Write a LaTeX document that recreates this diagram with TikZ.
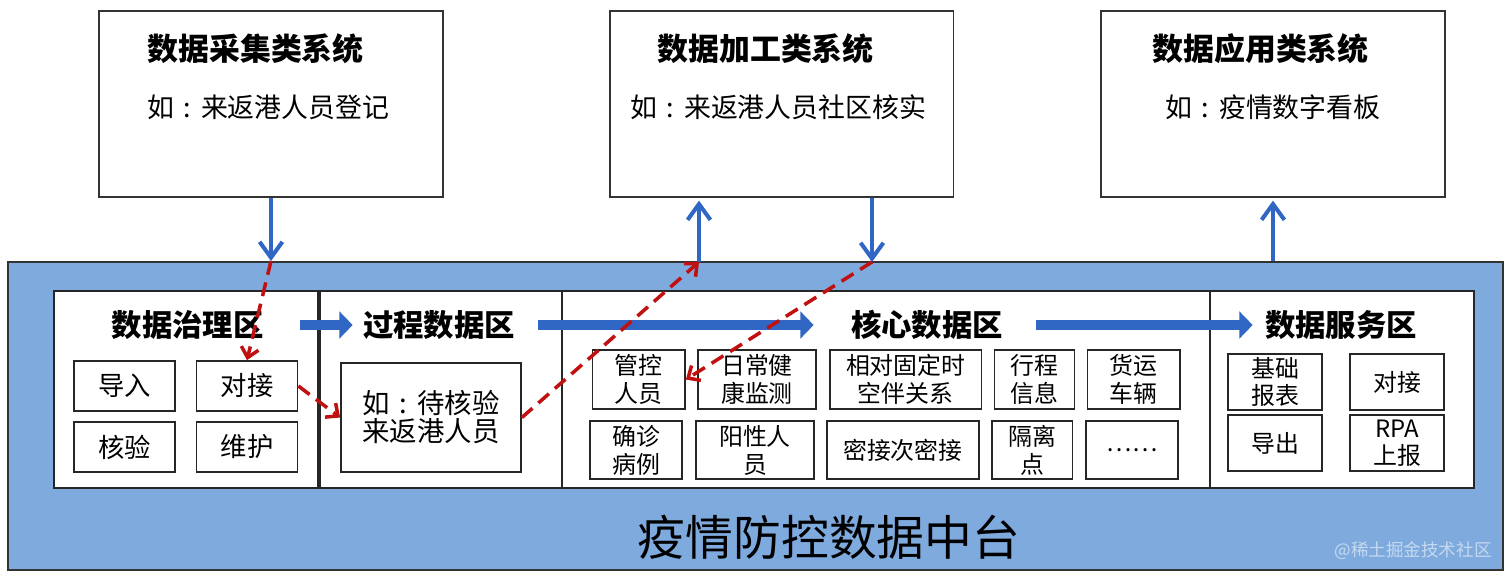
\documentclass[tikz,border=0pt]{standalone}
\usepackage{fontspec}
\setmainfont{Noto Sans CJK SC}
\usetikzlibrary{positioning, arrows.meta}
\definecolor{pfblue}{RGB}{126,170,222}
\definecolor{arrblue}{RGB}{48,102,196}
\definecolor{dashred}{RGB}{192,16,16}
\newcommand{\midcolon}{\makebox[1em]{:}}

\begin{document}
\begin{tikzpicture}[
		x=0.02cm, y=-0.02cm,
		sysbox/.style={draw=black!80, fill=white, line width=1.1pt, minimum width=6.88cm, minimum height=3.72cm, inner sep=0pt},
		zone/.style={draw=black!85, fill=white, line width=1.1pt, minimum height=3.94cm, inner sep=0pt},
		cell/.style={draw=black!85, fill=white, line width=1pt, inner sep=0pt, align=center, font=\fontsize{13.6}{15.9}\selectfont},
		bigcell/.style={cell, minimum width=2.02cm, minimum height=1cm, font=\fontsize{15}{17}\selectfont},
		svcell/.style={cell, minimum width=1.88cm, minimum height=1.12cm, font=\fontsize{13.6}{15.3}\selectfont},
		systitle/.style={anchor=west, inner sep=0pt, font=\fontsize{17.6}{20}\selectfont\bfseries},
		syssub/.style={anchor=west, inner sep=0pt, font=\fontsize{15.3}{18}\selectfont},
		zonetitle/.style={inner sep=0pt, font=\fontsize{17.3}{20}\selectfont\bfseries},
		flow/.style={draw=arrblue, line width=5.6pt, -{Triangle[length=7.5pt,width=15pt]}},
		link/.style={draw=arrblue, line width=2.3pt, -{Straight Barb[length=9pt,width=13pt]}},
		hop/.style={draw=dashred, line width=2pt, dash pattern=on 8pt off 4.5pt, -{Straight Barb[length=5.5pt,width=10pt]}}
		]
		
		\useasboundingbox (0,0) rectangle (1512,579);
		
		% 上层三类系统
		\node[sysbox] (sys1) at (271,104) {};
		\node[sysbox] (sys2) at (781.5,104) {};
		\node[sysbox] (sys3) at (1273,104) {};
		\node[systitle] (sys1t) at (147,49) {数据采集类系统};
		\node[syssub] (sys1s) at (147,107) {如\midcolon 来返港人员登记};
		\node[systitle] (sys2t) at (657,49) {数据加工类系统};
		\node[syssub] (sys2s) at (630,107) {如\midcolon 来返港人员社区核实};
		\node[systitle] (sys3t) at (1152,49) {数据应用类系统};
		\node[syssub] (sys3s) at (1165,107) {如\midcolon 疫情数字看板};
		
		% 中台底板
		\node[draw=black!80, fill=pfblue, line width=1.1pt, minimum width=29.9cm, minimum height=6.16cm, inner sep=0pt] (plat) at (755.5,416) {};
		\node[font=\fontsize{27.2}{30}\selectfont] (platname) at (829,537) {疫情防控数据中台};
		\node[font=\fontsize{10}{12}\selectfont, text=white!55!pfblue] (mark) at (1413,551) {@稀土掘金技术社区};
		
		% 四个数据区
		\node[zone, minimum width=5.28cm] (z1) at (186,389.5) {};
		\node[zone, minimum width=4.84cm] (z2) at (441,389.5) {};
		\node[zone, minimum width=12.96cm] (z3) at (886,389.5) {};
		\node[zone, minimum width=5.28cm] (z4) at (1342,389.5) {};
		\node[zonetitle] (z1t) at (187.7,325) {数据治理区};
		\node[zonetitle] (z2t) at (439,325) {过程数据区};
		\node[zonetitle] (z3t) at (927,325) {核心数据区};
		\node[zonetitle] (z4t) at (1341,325) {数据服务区};
		
		% 数据治理区
		\node[bigcell] (dr) at (124.5,386) {导入};
		\node[bigcell] (dj1) at (247,386) {对接};
		\node[bigcell] (hy1) at (124.5,447) {核验};
		\node[bigcell] (wh) at (247,447) {维护};
		
		% 过程数据区
		\node[cell, minimum width=3.6cm, minimum height=2.18cm, font=\fontsize{15.6}{15.9}\selectfont] (gc) at (431,417.5) {如\midcolon 待核验\\来返港人员};
		
		% 核心数据区
		\node[cell, minimum width=1.85cm, minimum height=1.18cm] (gk) at (638.75,379.5) {管控\\人员};
		\node[cell, minimum width=2.36cm, minimum height=1.18cm] (rc) at (757,379.5) {日常健\\康监测};
		\node[cell, minimum width=3.03cm, minimum height=1.18cm] (xd) at (905.75,379.5) {相对固定时\\空伴关系};
		\node[cell, minimum width=1.6cm, minimum height=1.18cm] (xc) at (1034.6,379.5) {行程\\信息};
		\node[cell, minimum width=1.85cm, minimum height=1.18cm] (hc) at (1133.85,379.5) {货运\\车辆};
		\node[cell, minimum width=1.84cm, minimum height=1.16cm] (qz) at (636,450) {确诊\\病例};
		\node[cell, minimum width=2.36cm, minimum height=1.16cm] (yx) at (755,450) {阳性人\\员};
		\node[cell, minimum width=3.04cm, minimum height=1.16cm] (mj) at (902.85,450) {密接次密接};
		\node[cell, minimum width=1.61cm, minimum height=1.16cm] (gl) at (1032.25,450) {隔离\\点};
		\node[cell, minimum width=1.84cm, minimum height=1.16cm] (dd) at (1132,450) {……};
		
		% 数据服务区
		\node[svcell] (jc) at (1275,382) {基础\\报表};
		\node[svcell] (dj2) at (1397,382) {对接};
		\node[svcell] (dc) at (1275,443) {导出};
		\node[svcell] (rpa) at (1397,443) {RPA\\上报};
		
		% 系统与中台之间
		\coordinate (dn1) at (sys1.south |- plat.north);
		\coordinate (up2) at (699,262);
		\coordinate (dn2) at (872,262);
		\coordinate (up3) at (sys3.south |- plat.north);
		\draw[link] (sys1.south) -- (dn1);
		\draw[link, shorten >=1.5pt] (up2) -- (up2 |- sys2.south);
		\draw[link] (dn2 |- sys2.south) -- (dn2);
		\draw[link, shorten >=1.5pt] (up3) -- (sys3.south);
		
		% 数据流向
		\draw[flow, shorten <=0.72cm, shorten >=0.2cm] (z1t.east) -- (z2t.west);
		\draw[flow, shorten <=0.46cm, shorten >=0.74cm] (z2t.east) -- (z3t.west);
		\draw[flow, shorten <=0.66cm, shorten >=0.24cm] (z3t.east) -- (z4t.west);
		
		% 示例路径
		\draw[hop] (dn1) -- (dj1.north);
		\draw[hop] (dj1.east) -- (gc.west);
		\draw[hop] (gc.east) -- (up2);
		\draw[hop] (dn2) -- (gk.east);
		
	\end{tikzpicture}
\end{document}
